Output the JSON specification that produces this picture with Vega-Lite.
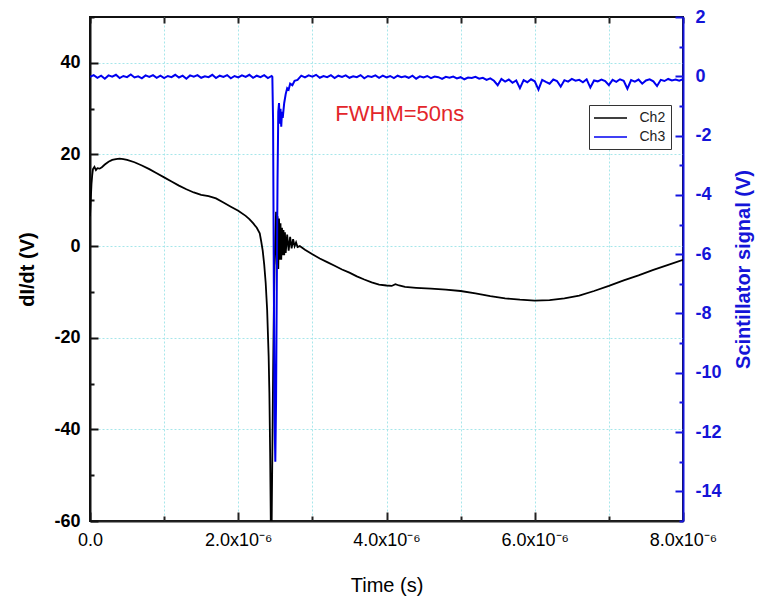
{
  "$schema": "https://vega.github.io/schema/vega-lite/v6.json",
  "width": 593,
  "height": 504,
  "autosize": {"type": "none"},
  "padding": {"left": 90, "top": 17, "right": 74, "bottom": 78},
  "background": "white",
  "config": {
    "view": {"stroke": "#111111", "strokeWidth": 2},
    "font": "Liberation Sans",
    "axis": {"labelFont": "Liberation Sans", "titleFont": "Liberation Sans", "grid": false, "labelOverlap": false, "labelFlush": false, "labelBound": false}
  },
  "datasets": {
    "ch2": [
      {"t_us": 0.00, "v": 6.5, "ch": "Ch2"}, {"t_us": 0.01, "v": 10, "ch": "Ch2"}, {"t_us": 0.02, "v": 13.5, "ch": "Ch2"},
      {"t_us": 0.03, "v": 15.5, "ch": "Ch2"}, {"t_us": 0.04, "v": 16.8, "ch": "Ch2"}, {"t_us": 0.06, "v": 17.3, "ch": "Ch2"},
      {"t_us": 0.08, "v": 16.6, "ch": "Ch2"}, {"t_us": 0.10, "v": 17.0, "ch": "Ch2"}, {"t_us": 0.13, "v": 16.9, "ch": "Ch2"},
      {"t_us": 0.16, "v": 17.2, "ch": "Ch2"}, {"t_us": 0.20, "v": 17.8, "ch": "Ch2"}, {"t_us": 0.25, "v": 18.4, "ch": "Ch2"},
      {"t_us": 0.30, "v": 18.8, "ch": "Ch2"}, {"t_us": 0.35, "v": 19.0, "ch": "Ch2"}, {"t_us": 0.40, "v": 19.1, "ch": "Ch2"},
      {"t_us": 0.45, "v": 19.0, "ch": "Ch2"}, {"t_us": 0.50, "v": 18.8, "ch": "Ch2"}, {"t_us": 0.60, "v": 18.3, "ch": "Ch2"},
      {"t_us": 0.70, "v": 17.6, "ch": "Ch2"}, {"t_us": 0.80, "v": 16.8, "ch": "Ch2"}, {"t_us": 0.90, "v": 15.9, "ch": "Ch2"},
      {"t_us": 1.00, "v": 15.0, "ch": "Ch2"}, {"t_us": 1.10, "v": 14.1, "ch": "Ch2"}, {"t_us": 1.20, "v": 13.2, "ch": "Ch2"},
      {"t_us": 1.30, "v": 12.4, "ch": "Ch2"}, {"t_us": 1.40, "v": 11.7, "ch": "Ch2"}, {"t_us": 1.50, "v": 11.2, "ch": "Ch2"},
      {"t_us": 1.60, "v": 10.9, "ch": "Ch2"}, {"t_us": 1.70, "v": 10.4, "ch": "Ch2"}, {"t_us": 1.80, "v": 9.5, "ch": "Ch2"},
      {"t_us": 1.90, "v": 8.6, "ch": "Ch2"}, {"t_us": 2.00, "v": 7.7, "ch": "Ch2"}, {"t_us": 2.10, "v": 6.6, "ch": "Ch2"},
      {"t_us": 2.15, "v": 5.9, "ch": "Ch2"}, {"t_us": 2.20, "v": 5.0, "ch": "Ch2"}, {"t_us": 2.25, "v": 4.0, "ch": "Ch2"},
      {"t_us": 2.29, "v": 2.8, "ch": "Ch2"}, {"t_us": 2.31, "v": 1.0, "ch": "Ch2"}, {"t_us": 2.33, "v": -1.0, "ch": "Ch2"},
      {"t_us": 2.35, "v": -4, "ch": "Ch2"}, {"t_us": 2.37, "v": -8, "ch": "Ch2"}, {"t_us": 2.39, "v": -14, "ch": "Ch2"},
      {"t_us": 2.41, "v": -24, "ch": "Ch2"}, {"t_us": 2.42, "v": -32, "ch": "Ch2"}, {"t_us": 2.43, "v": -45, "ch": "Ch2"},
      {"t_us": 2.44, "v": -62, "ch": "Ch2"}, {"t_us": 2.45, "v": -62, "ch": "Ch2"}, {"t_us": 2.46, "v": -45, "ch": "Ch2"},
      {"t_us": 2.47, "v": -28, "ch": "Ch2"}, {"t_us": 2.48, "v": -14, "ch": "Ch2"}, {"t_us": 2.49, "v": -4, "ch": "Ch2"},
      {"t_us": 2.50, "v": 2, "ch": "Ch2"}, {"t_us": 2.51, "v": 7.5, "ch": "Ch2"}, {"t_us": 2.52, "v": -4, "ch": "Ch2"},
      {"t_us": 2.53, "v": 6.5, "ch": "Ch2"}, {"t_us": 2.54, "v": -5, "ch": "Ch2"}, {"t_us": 2.55, "v": 6, "ch": "Ch2"},
      {"t_us": 2.56, "v": -3, "ch": "Ch2"}, {"t_us": 2.57, "v": 5, "ch": "Ch2"}, {"t_us": 2.58, "v": -3, "ch": "Ch2"},
      {"t_us": 2.59, "v": 4, "ch": "Ch2"}, {"t_us": 2.60, "v": -2, "ch": "Ch2"}, {"t_us": 2.61, "v": 3.5, "ch": "Ch2"},
      {"t_us": 2.62, "v": -2, "ch": "Ch2"}, {"t_us": 2.63, "v": 3, "ch": "Ch2"}, {"t_us": 2.64, "v": -1.5, "ch": "Ch2"},
      {"t_us": 2.66, "v": 2.5, "ch": "Ch2"}, {"t_us": 2.68, "v": -1, "ch": "Ch2"}, {"t_us": 2.70, "v": 2, "ch": "Ch2"},
      {"t_us": 2.72, "v": -0.5, "ch": "Ch2"}, {"t_us": 2.74, "v": 1.5, "ch": "Ch2"}, {"t_us": 2.76, "v": 0, "ch": "Ch2"},
      {"t_us": 2.78, "v": 0.8, "ch": "Ch2"}, {"t_us": 2.80, "v": -0.2, "ch": "Ch2"}, {"t_us": 2.83, "v": 0, "ch": "Ch2"},
      {"t_us": 2.90, "v": -0.8, "ch": "Ch2"}, {"t_us": 3.00, "v": -1.8, "ch": "Ch2"}, {"t_us": 3.10, "v": -2.7, "ch": "Ch2"},
      {"t_us": 3.20, "v": -3.5, "ch": "Ch2"}, {"t_us": 3.30, "v": -4.3, "ch": "Ch2"}, {"t_us": 3.40, "v": -5.1, "ch": "Ch2"},
      {"t_us": 3.50, "v": -5.8, "ch": "Ch2"}, {"t_us": 3.60, "v": -6.6, "ch": "Ch2"}, {"t_us": 3.70, "v": -7.3, "ch": "Ch2"},
      {"t_us": 3.80, "v": -7.9, "ch": "Ch2"}, {"t_us": 3.90, "v": -8.4, "ch": "Ch2"}, {"t_us": 4.00, "v": -8.6, "ch": "Ch2"},
      {"t_us": 4.07, "v": -8.7, "ch": "Ch2"}, {"t_us": 4.12, "v": -8.3, "ch": "Ch2"}, {"t_us": 4.17, "v": -8.6, "ch": "Ch2"},
      {"t_us": 4.25, "v": -8.9, "ch": "Ch2"}, {"t_us": 4.40, "v": -9.1, "ch": "Ch2"}, {"t_us": 4.60, "v": -9.3, "ch": "Ch2"},
      {"t_us": 4.80, "v": -9.5, "ch": "Ch2"}, {"t_us": 5.00, "v": -9.8, "ch": "Ch2"}, {"t_us": 5.20, "v": -10.3, "ch": "Ch2"},
      {"t_us": 5.40, "v": -10.9, "ch": "Ch2"}, {"t_us": 5.60, "v": -11.4, "ch": "Ch2"}, {"t_us": 5.80, "v": -11.7, "ch": "Ch2"},
      {"t_us": 6.00, "v": -11.9, "ch": "Ch2"}, {"t_us": 6.20, "v": -11.8, "ch": "Ch2"}, {"t_us": 6.40, "v": -11.4, "ch": "Ch2"},
      {"t_us": 6.60, "v": -10.8, "ch": "Ch2"}, {"t_us": 6.80, "v": -9.8, "ch": "Ch2"}, {"t_us": 7.00, "v": -8.7, "ch": "Ch2"},
      {"t_us": 7.20, "v": -7.5, "ch": "Ch2"}, {"t_us": 7.40, "v": -6.4, "ch": "Ch2"}, {"t_us": 7.60, "v": -5.2, "ch": "Ch2"},
      {"t_us": 7.80, "v": -4.1, "ch": "Ch2"}, {"t_us": 8.00, "v": -3.0, "ch": "Ch2"}
    ],
    "ch3": [
      {"t_us": 0.00, "v": -0.02, "ch": "Ch3"}, {"t_us": 0.05, "v": 0.04, "ch": "Ch3"}, {"t_us": 0.10, "v": -0.05, "ch": "Ch3"},
      {"t_us": 0.15, "v": 0.02, "ch": "Ch3"}, {"t_us": 0.20, "v": -0.08, "ch": "Ch3"}, {"t_us": 0.25, "v": 0.03, "ch": "Ch3"},
      {"t_us": 0.30, "v": -0.01, "ch": "Ch3"}, {"t_us": 0.35, "v": 0.05, "ch": "Ch3"}, {"t_us": 0.40, "v": -0.06, "ch": "Ch3"},
      {"t_us": 0.45, "v": 0.01, "ch": "Ch3"}, {"t_us": 0.50, "v": -0.03, "ch": "Ch3"}, {"t_us": 0.55, "v": 0.06, "ch": "Ch3"},
      {"t_us": 0.60, "v": -0.04, "ch": "Ch3"}, {"t_us": 0.65, "v": 0.00, "ch": "Ch3"}, {"t_us": 0.70, "v": -0.07, "ch": "Ch3"},
      {"t_us": 0.75, "v": 0.03, "ch": "Ch3"}, {"t_us": 0.80, "v": -0.02, "ch": "Ch3"}, {"t_us": 0.85, "v": 0.04, "ch": "Ch3"},
      {"t_us": 0.90, "v": -0.05, "ch": "Ch3"}, {"t_us": 0.95, "v": 0.02, "ch": "Ch3"}, {"t_us": 1.00, "v": -0.06, "ch": "Ch3"},
      {"t_us": 1.05, "v": 0.01, "ch": "Ch3"}, {"t_us": 1.10, "v": -0.03, "ch": "Ch3"}, {"t_us": 1.15, "v": 0.05, "ch": "Ch3"},
      {"t_us": 1.20, "v": -0.04, "ch": "Ch3"}, {"t_us": 1.25, "v": 0.02, "ch": "Ch3"}, {"t_us": 1.30, "v": -0.08, "ch": "Ch3"},
      {"t_us": 1.35, "v": 0.03, "ch": "Ch3"}, {"t_us": 1.40, "v": -0.01, "ch": "Ch3"}, {"t_us": 1.45, "v": 0.04, "ch": "Ch3"},
      {"t_us": 1.50, "v": -0.05, "ch": "Ch3"}, {"t_us": 1.55, "v": 0.00, "ch": "Ch3"}, {"t_us": 1.60, "v": -0.03, "ch": "Ch3"},
      {"t_us": 1.65, "v": 0.05, "ch": "Ch3"}, {"t_us": 1.70, "v": -0.06, "ch": "Ch3"}, {"t_us": 1.75, "v": 0.02, "ch": "Ch3"},
      {"t_us": 1.80, "v": -0.02, "ch": "Ch3"}, {"t_us": 1.85, "v": 0.04, "ch": "Ch3"}, {"t_us": 1.90, "v": -0.07, "ch": "Ch3"},
      {"t_us": 1.95, "v": 0.01, "ch": "Ch3"}, {"t_us": 2.00, "v": -0.04, "ch": "Ch3"}, {"t_us": 2.05, "v": 0.03, "ch": "Ch3"},
      {"t_us": 2.10, "v": -0.02, "ch": "Ch3"}, {"t_us": 2.15, "v": 0.05, "ch": "Ch3"}, {"t_us": 2.20, "v": -0.05, "ch": "Ch3"},
      {"t_us": 2.25, "v": 0.02, "ch": "Ch3"}, {"t_us": 2.30, "v": -0.03, "ch": "Ch3"}, {"t_us": 2.35, "v": 0.04, "ch": "Ch3"},
      {"t_us": 2.40, "v": -0.06, "ch": "Ch3"}, {"t_us": 2.45, "v": 0.01, "ch": "Ch3"},
      {"t_us": 2.46, "v": -0.02, "ch": "Ch3"}, {"t_us": 2.47, "v": -1.5, "ch": "Ch3"}, {"t_us": 2.48, "v": -7, "ch": "Ch3"},
      {"t_us": 2.49, "v": -11.5, "ch": "Ch3"}, {"t_us": 2.50, "v": -13.0, "ch": "Ch3"}, {"t_us": 2.51, "v": -11, "ch": "Ch3"},
      {"t_us": 2.52, "v": -7, "ch": "Ch3"}, {"t_us": 2.53, "v": -3.5, "ch": "Ch3"}, {"t_us": 2.54, "v": -1.2, "ch": "Ch3"},
      {"t_us": 2.55, "v": -0.9, "ch": "Ch3"}, {"t_us": 2.56, "v": -1.6, "ch": "Ch3"}, {"t_us": 2.57, "v": -1.1, "ch": "Ch3"},
      {"t_us": 2.58, "v": -1.7, "ch": "Ch3"}, {"t_us": 2.59, "v": -1.2, "ch": "Ch3"}, {"t_us": 2.60, "v": -1.4, "ch": "Ch3"},
      {"t_us": 2.62, "v": -0.9, "ch": "Ch3"}, {"t_us": 2.64, "v": -0.6, "ch": "Ch3"}, {"t_us": 2.66, "v": -0.4, "ch": "Ch3"},
      {"t_us": 2.68, "v": -0.45, "ch": "Ch3"}, {"t_us": 2.70, "v": -0.25, "ch": "Ch3"}, {"t_us": 2.73, "v": -0.3, "ch": "Ch3"},
      {"t_us": 2.76, "v": -0.15, "ch": "Ch3"}, {"t_us": 2.80, "v": -0.12, "ch": "Ch3"},
      {"t_us": 2.85, "v": 0.02, "ch": "Ch3"}, {"t_us": 2.90, "v": -0.04, "ch": "Ch3"}, {"t_us": 2.95, "v": 0.03, "ch": "Ch3"},
      {"t_us": 3.00, "v": -0.01, "ch": "Ch3"}, {"t_us": 3.05, "v": 0.05, "ch": "Ch3"}, {"t_us": 3.10, "v": -0.05, "ch": "Ch3"},
      {"t_us": 3.15, "v": 0.01, "ch": "Ch3"}, {"t_us": 3.20, "v": -0.03, "ch": "Ch3"}, {"t_us": 3.25, "v": 0.04, "ch": "Ch3"},
      {"t_us": 3.30, "v": -0.06, "ch": "Ch3"}, {"t_us": 3.35, "v": 0.02, "ch": "Ch3"}, {"t_us": 3.40, "v": -0.02, "ch": "Ch3"},
      {"t_us": 3.45, "v": 0.03, "ch": "Ch3"}, {"t_us": 3.50, "v": -0.05, "ch": "Ch3"}, {"t_us": 3.55, "v": 0.00, "ch": "Ch3"},
      {"t_us": 3.60, "v": -0.03, "ch": "Ch3"}, {"t_us": 3.65, "v": 0.04, "ch": "Ch3"}, {"t_us": 3.70, "v": -0.07, "ch": "Ch3"},
      {"t_us": 3.75, "v": 0.01, "ch": "Ch3"}, {"t_us": 3.80, "v": -0.02, "ch": "Ch3"}, {"t_us": 3.85, "v": 0.03, "ch": "Ch3"},
      {"t_us": 3.90, "v": -0.05, "ch": "Ch3"}, {"t_us": 3.95, "v": 0.02, "ch": "Ch3"}, {"t_us": 4.00, "v": -0.04, "ch": "Ch3"},
      {"t_us": 4.05, "v": 0.01, "ch": "Ch3"}, {"t_us": 4.10, "v": -0.06, "ch": "Ch3"}, {"t_us": 4.15, "v": 0.02, "ch": "Ch3"},
      {"t_us": 4.20, "v": -0.03, "ch": "Ch3"}, {"t_us": 4.25, "v": 0.00, "ch": "Ch3"}, {"t_us": 4.30, "v": -0.05, "ch": "Ch3"},
      {"t_us": 4.35, "v": 0.02, "ch": "Ch3"}, {"t_us": 4.40, "v": -0.08, "ch": "Ch3"}, {"t_us": 4.45, "v": 0.00, "ch": "Ch3"},
      {"t_us": 4.50, "v": -0.04, "ch": "Ch3"}, {"t_us": 4.55, "v": 0.01, "ch": "Ch3"}, {"t_us": 4.60, "v": -0.06, "ch": "Ch3"},
      {"t_us": 4.65, "v": -0.01, "ch": "Ch3"}, {"t_us": 4.70, "v": -0.03, "ch": "Ch3"}, {"t_us": 4.75, "v": -0.09, "ch": "Ch3"},
      {"t_us": 4.80, "v": -0.02, "ch": "Ch3"}, {"t_us": 4.85, "v": -0.05, "ch": "Ch3"}, {"t_us": 4.90, "v": -0.01, "ch": "Ch3"},
      {"t_us": 4.95, "v": -0.07, "ch": "Ch3"}, {"t_us": 5.00, "v": -0.03, "ch": "Ch3"}, {"t_us": 5.05, "v": -0.10, "ch": "Ch3"},
      {"t_us": 5.10, "v": -0.04, "ch": "Ch3"}, {"t_us": 5.15, "v": -0.06, "ch": "Ch3"}, {"t_us": 5.20, "v": -0.02, "ch": "Ch3"},
      {"t_us": 5.25, "v": -0.08, "ch": "Ch3"}, {"t_us": 5.30, "v": -0.05, "ch": "Ch3"},
      {"t_us": 5.35, "v": -0.12, "ch": "Ch3"}, {"t_us": 5.40, "v": -0.07, "ch": "Ch3"}, {"t_us": 5.45, "v": -0.15, "ch": "Ch3"},
      {"t_us": 5.50, "v": -0.30, "ch": "Ch3"}, {"t_us": 5.55, "v": -0.09, "ch": "Ch3"}, {"t_us": 5.60, "v": -0.18, "ch": "Ch3"},
      {"t_us": 5.65, "v": -0.11, "ch": "Ch3"}, {"t_us": 5.70, "v": -0.22, "ch": "Ch3"}, {"t_us": 5.75, "v": -0.14, "ch": "Ch3"},
      {"t_us": 5.80, "v": -0.40, "ch": "Ch3"}, {"t_us": 5.85, "v": -0.13, "ch": "Ch3"}, {"t_us": 5.90, "v": -0.20, "ch": "Ch3"},
      {"t_us": 5.95, "v": -0.10, "ch": "Ch3"}, {"t_us": 6.00, "v": -0.17, "ch": "Ch3"}, {"t_us": 6.05, "v": -0.45, "ch": "Ch3"},
      {"t_us": 6.10, "v": -0.12, "ch": "Ch3"}, {"t_us": 6.15, "v": -0.19, "ch": "Ch3"}, {"t_us": 6.20, "v": -0.25, "ch": "Ch3"},
      {"t_us": 6.25, "v": -0.11, "ch": "Ch3"}, {"t_us": 6.30, "v": -0.16, "ch": "Ch3"}, {"t_us": 6.35, "v": -0.35, "ch": "Ch3"},
      {"t_us": 6.40, "v": -0.13, "ch": "Ch3"}, {"t_us": 6.45, "v": -0.18, "ch": "Ch3"}, {"t_us": 6.50, "v": -0.09, "ch": "Ch3"},
      {"t_us": 6.55, "v": -0.15, "ch": "Ch3"}, {"t_us": 6.60, "v": -0.12, "ch": "Ch3"}, {"t_us": 6.65, "v": -0.20, "ch": "Ch3"},
      {"t_us": 6.70, "v": -0.10, "ch": "Ch3"}, {"t_us": 6.75, "v": -0.38, "ch": "Ch3"}, {"t_us": 6.80, "v": -0.14, "ch": "Ch3"},
      {"t_us": 6.85, "v": -0.17, "ch": "Ch3"}, {"t_us": 6.90, "v": -0.11, "ch": "Ch3"}, {"t_us": 6.95, "v": -0.16, "ch": "Ch3"},
      {"t_us": 7.00, "v": -0.30, "ch": "Ch3"}, {"t_us": 7.05, "v": -0.12, "ch": "Ch3"}, {"t_us": 7.10, "v": -0.19, "ch": "Ch3"},
      {"t_us": 7.15, "v": -0.10, "ch": "Ch3"}, {"t_us": 7.20, "v": -0.15, "ch": "Ch3"}, {"t_us": 7.25, "v": -0.42, "ch": "Ch3"},
      {"t_us": 7.30, "v": -0.13, "ch": "Ch3"}, {"t_us": 7.35, "v": -0.18, "ch": "Ch3"}, {"t_us": 7.40, "v": -0.11, "ch": "Ch3"},
      {"t_us": 7.45, "v": -0.25, "ch": "Ch3"}, {"t_us": 7.50, "v": -0.14, "ch": "Ch3"}, {"t_us": 7.55, "v": -0.10, "ch": "Ch3"},
      {"t_us": 7.60, "v": -0.17, "ch": "Ch3"}, {"t_us": 7.65, "v": -0.33, "ch": "Ch3"}, {"t_us": 7.70, "v": -0.12, "ch": "Ch3"},
      {"t_us": 7.75, "v": -0.16, "ch": "Ch3"}, {"t_us": 7.80, "v": -0.09, "ch": "Ch3"}, {"t_us": 7.85, "v": -0.14, "ch": "Ch3"},
      {"t_us": 7.90, "v": -0.11, "ch": "Ch3"}, {"t_us": 7.95, "v": -0.15, "ch": "Ch3"}, {"t_us": 8.00, "v": -0.10, "ch": "Ch3"}
    ],
    "note": [
      {"t_us": 4.18, "v": 28.9, "label": "FWHM=50ns"}
    ]
  },
  "layer": [
    {
      "layer": [
        {
          "data": {"name": "ch2"},
          "mark": {"type": "line", "strokeWidth": 1.8, "clip": true},
          "encoding": {
            "x": {
              "field": "t_us", "type": "quantitative",
              "scale": {"domain": [0, 8], "nice": false, "zero": false},
              "axis": {
                "orient": "bottom",
                "title": "Time (s)", "titleFontSize": 20, "titleFontWeight": "normal", "titleColor": "#000000", "titlePadding": 22,
                "values": [0, 1, 2, 3, 4, 5, 6, 7, 8],
                "labelExpr": "datum.value == 0 ? '0.0' : (datum.value % 2 == 0 ? format(datum.value, '.1f') + 'x10⁻⁶' : '')",
                "labelFontSize": 18, "labelColor": "#000000", "labelPadding": 19,
                "domainColor": "#222222", "domainWidth": 2,
                "tickColor": "#222222", "tickWidth": 2,
                "tickSize": {"condition": {"test": "datum.value % 2 == 0", "value": -9}, "value": -5},
                "grid": true, "gridDash": [2, 2], "gridWidth": 1,
                "gridColor": {"condition": {"test": "datum.value > 0 && datum.value < 8", "value": "#a6e6ea"}, "value": "rgba(0,0,0,0)"}
              }
            },
            "y": {
              "field": "v", "type": "quantitative",
              "scale": {"domain": [-60, 50], "nice": false, "zero": false},
              "axis": {
                "orient": "left",
                "title": "dI/dt (V)", "titleFontSize": 20, "titleFontWeight": "bold", "titleColor": "#000000", "titlePadding": 16,
                "values": [-60, -50, -40, -30, -20, -10, 0, 10, 20, 30, 40, 50],
                "labelExpr": "datum.value % 20 == 0 ? datum.value : ''",
                "labelFontSize": 18, "labelFontWeight": "bold", "labelColor": "#000000", "labelPadding": 18,
                "domainColor": "#111111", "domainWidth": 2,
                "tickColor": "#111111", "tickWidth": 2,
                "tickSize": {"condition": {"test": "datum.value % 20 == 0", "value": -8}, "value": -4},
                "grid": true, "gridDash": [2, 2], "gridWidth": 1,
                "gridColor": {"condition": {"test": "datum.value % 20 == 0 && datum.value > -60", "value": "#a6e6ea"}, "value": "rgba(0,0,0,0)"}
              }
            },
            "color": {
              "field": "ch", "type": "nominal",
              "scale": {"domain": ["Ch2", "Ch3"], "range": ["#000000", "#0000f0"]},
              "legend": {
                "title": null, "orient": "none", "legendX": 499, "legendY": 88,
                "fillColor": "#ffffff", "strokeColor": "#333333", "padding": 5,
                "symbolType": "M-2.36,0H2.36", "symbolSize": 196, "symbolStrokeWidth": 1.5, "symbolOffset": 8.5,
                "labelFont": "Liberation Sans", "labelFontSize": 14, "labelColor": "#222222",
                "labelOffset": 21, "rowPadding": 4
              }
            }
          }
        },
        {
          "data": {"name": "note"},
          "mark": {"type": "text", "fill": "#e3262b", "fontSize": 22, "font": "Liberation Sans", "align": "center", "baseline": "middle"},
          "encoding": {
            "x": {"field": "t_us", "type": "quantitative"},
            "y": {"field": "v", "type": "quantitative"},
            "text": {"field": "label", "type": "nominal"}
          }
        }
      ]
    },
    {
      "data": {"name": "ch3"},
      "mark": {"type": "line", "strokeWidth": 2, "clip": true},
      "encoding": {
        "x": {
          "field": "t_us", "type": "quantitative",
          "axis": {
            "orient": "top", "title": null, "labels": false, "domain": false, "grid": false,
            "values": [0, 1, 2, 3, 4, 5, 6, 7, 8],
            "tickColor": "#222222", "tickWidth": 2, "tickSize": -6
          }
        },
        "y": {
          "field": "v", "type": "quantitative",
          "scale": {"domain": [-15, 2], "nice": false, "zero": false},
          "axis": {
            "orient": "right",
            "title": "Scintillator signal (V)", "titleFontSize": 20, "titleFontWeight": "bold", "titleColor": "#1414d8", "titlePadding": 12, "titleAngle": 270, "titleBaseline": "top",
            "values": [-15, -14, -13, -12, -11, -10, -9, -8, -7, -6, -5, -4, -3, -2, -1, 0, 1, 2],
            "labelExpr": "datum.value % 2 == 0 ? datum.value : ''",
            "labelFontSize": 18, "labelFontWeight": "bold", "labelColor": "#1414d8", "labelPadding": 20,
            "domainColor": "#1414e0", "domainWidth": 2,
            "tickColor": "#1414e0", "tickWidth": 2,
            "tickSize": {"condition": {"test": "datum.value % 2 == 0", "value": -8}, "value": -4},
            "grid": false
          }
        },
        "color": {"field": "ch", "type": "nominal"}
      }
    }
  ],
  "resolve": {"scale": {"y": "independent"}, "axis": {"x": "independent"}}
}
